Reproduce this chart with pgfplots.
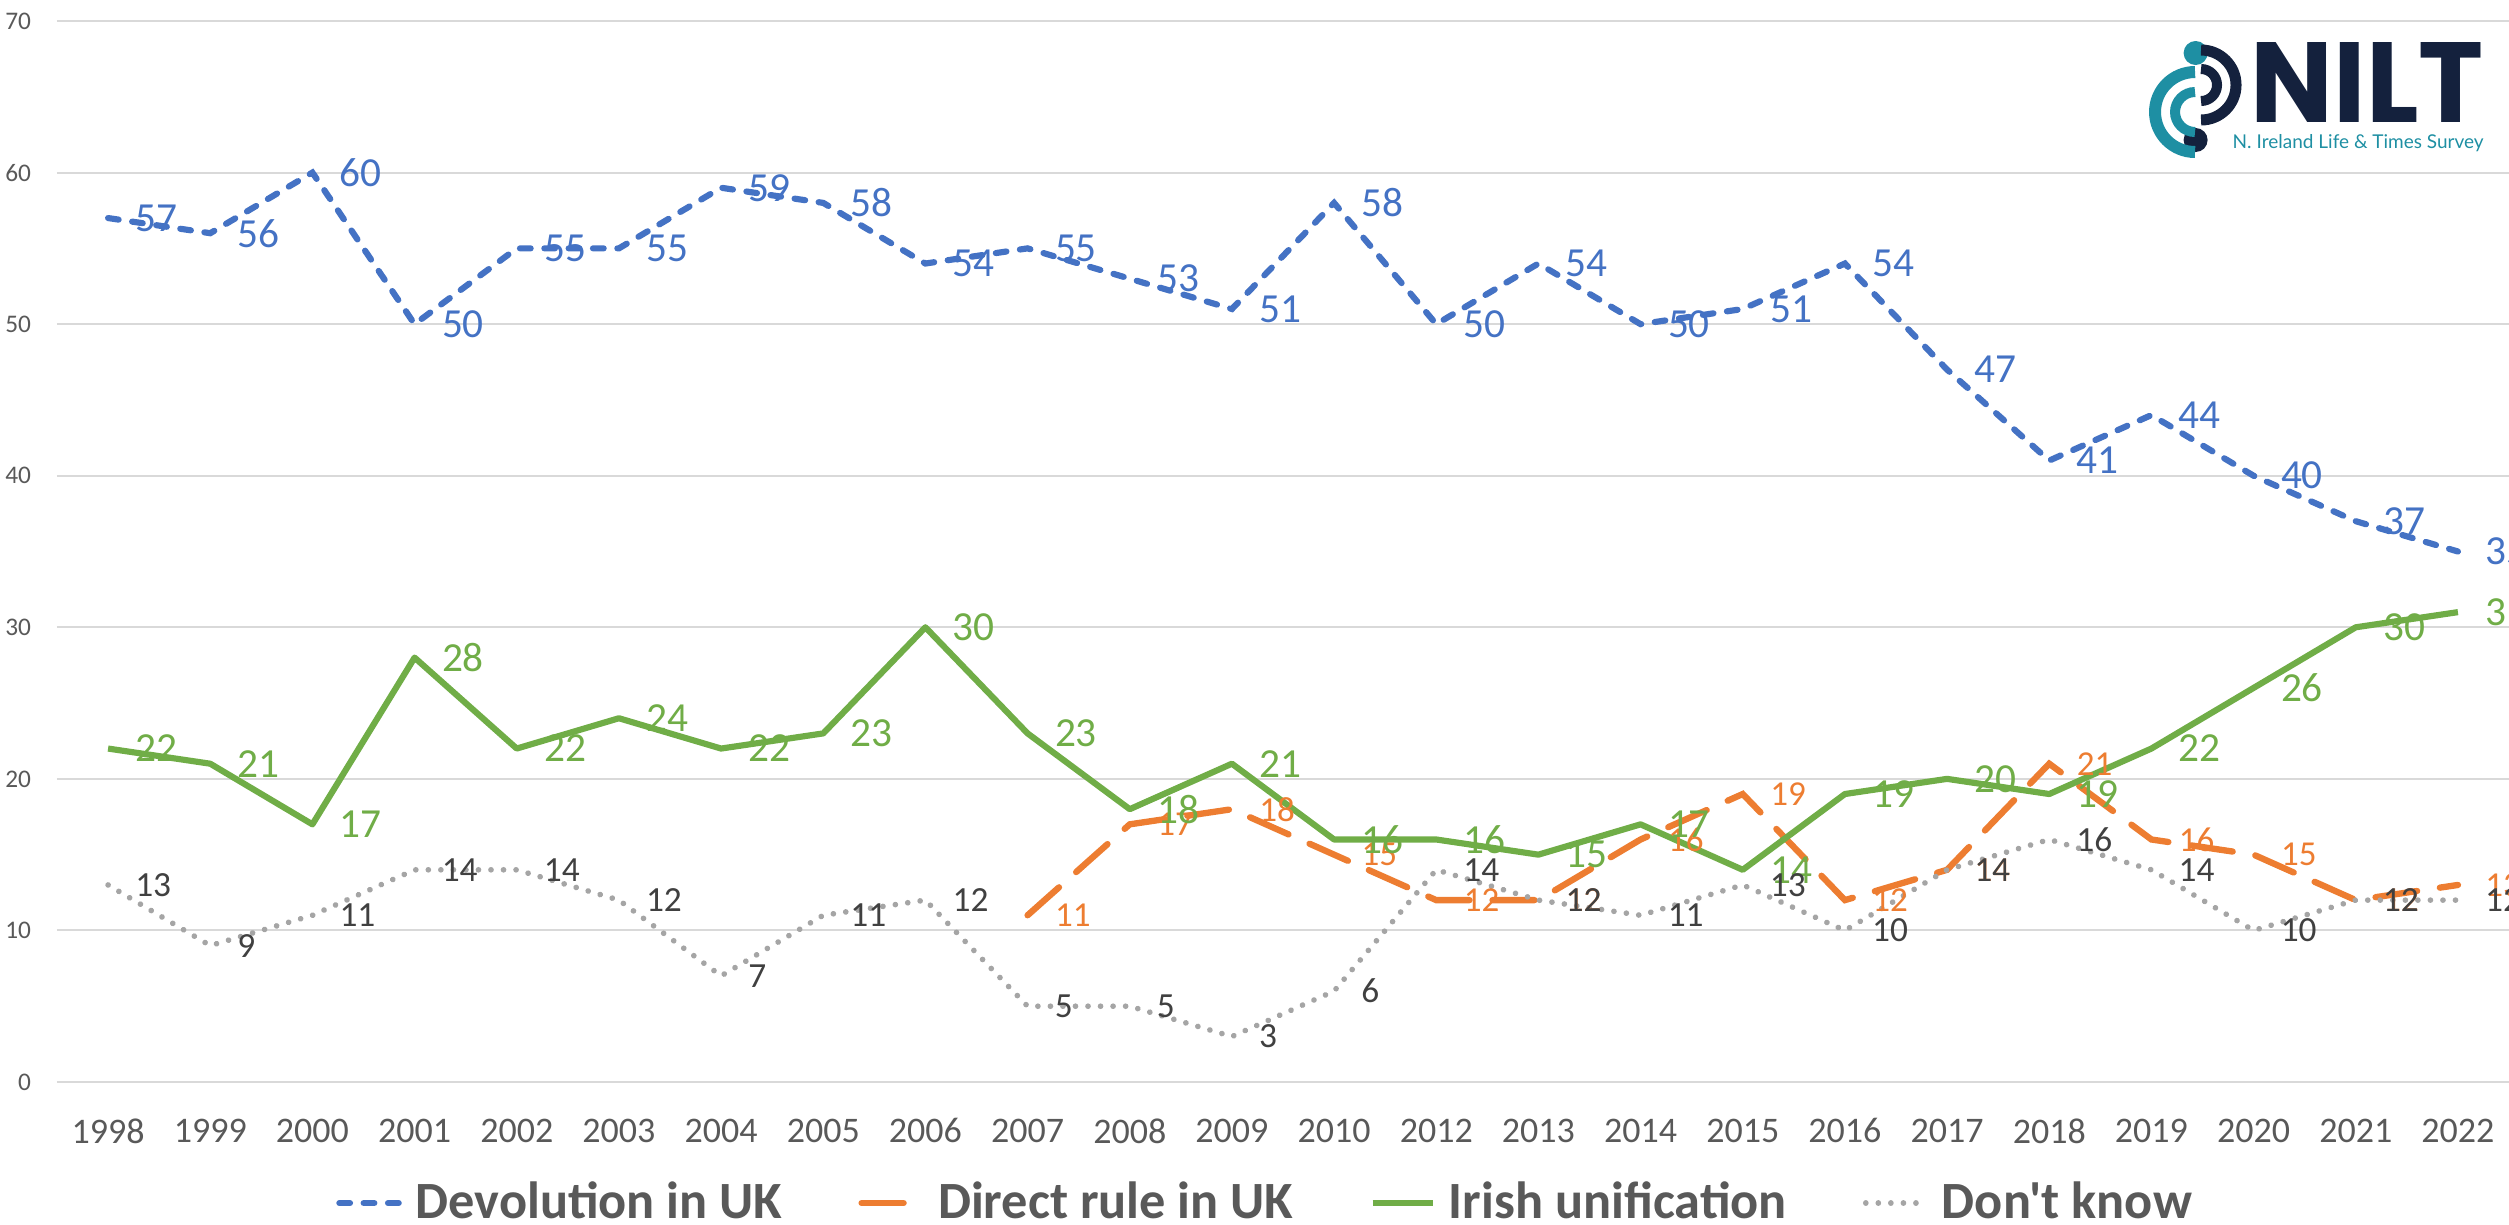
\documentclass[border=0pt]{standalone}
\usepackage{fontspec}
\setmainfont{Carlito}[Ligatures=TeXOff]
\newfontfamily\logofont{Poppins}
\newfontfamily\subfont{Lato}
\usepackage{pgfplots}
\pgfplotsset{compat=1.18}
\definecolor{cBlue}{HTML}{4472C4}
\definecolor{cOrange}{HTML}{ED7D31}
\definecolor{cGreen}{HTML}{70AD47}
\definecolor{cGray}{HTML}{A5A5A5}
\definecolor{cGrid}{HTML}{D9D9D9}
\definecolor{cTick}{HTML}{595959}
\definecolor{cDark}{HTML}{404040}
\definecolor{cNavy}{HTML}{14213D}
\definecolor{cTeal}{HTML}{1E8FA3}
\begin{document}
\begin{tikzpicture}
\useasboundingbox (0pt,0pt) rectangle (752.7pt,-367.2pt);
\clip (0pt,0pt) rectangle (752.7pt,-367.2pt);
\begin{axis}[
  at={(17.1pt,-6.3pt)}, anchor=north west,
  scale only axis, width=735.6pt, height=318.3pt,
  xmin=-0.5, xmax=23.5, ymin=0, ymax=70,
  xtick={0,...,23},
  xticklabels={1998,1999,2000,2001,2002,2003,2004,2005,2006,2007,2008,2009,2010,2012,2013,2014,2015,2016,2017,2018,2019,2020,2021,2022},
  ytick={0,10,...,70},
  ymajorgrids, grid style={color=cGrid, line width=0.6pt},
  axis line style={draw=none}, major tick length=0pt,
  tick label style={color=cTick},
  /pgf/number format/assume math mode=true,
  yticklabel style={font=\fontsize{7.6}{8}\selectfont, anchor=east, inner sep=0pt, xshift=-7.6pt},
  xticklabel style={font=\fontsize{10.8}{12}\selectfont, anchor=north, inner sep=0pt, yshift=-10.8pt},
  clip=false,
  legend columns=4,
  legend style={draw=none, fill=none, at={(0.4923,-0.1338)}, anchor=south, inner sep=0pt, outer sep=0pt,
    font=\fontsize{15.7}{18}\selectfont\bfseries, text=cTick, nodes={inner sep=0pt},
    /tikz/every odd column/.append style={column sep=4pt},
    /tikz/every even column/.append style={column sep=22.8pt}},
  legend image code/.code={\draw[#1] (0.9pt,0pt) -- (18.9pt,0pt);},
  nodes near coords,
  every node near coord/.append style={anchor=west, inner sep=0pt, xshift=7.3pt},
]
\addplot[cBlue, line width=1.85pt, line cap=round, dash pattern=on 3.2pt off 4.1pt,
  every node near coord/.append style={text=cBlue, font=\fontsize{12.4}{14}\selectfont}]
  coordinates {(0,57)(1,56)(2,60)(3,50)(4,55)(5,55)(6,59)(7,58)(8,54)(9,55)(10,53)(11,51)(12,58)(13,50)(14,54)(15,50)(16,51)(17,54)(18,47)(19,41)(20,44)(21,40)(22,37)(23,35)};
\addlegendentry{Devolution in UK}
\addplot[cOrange, line width=1.9pt, line cap=round, dash pattern=on 12.6pt off 6.9pt,
  every node near coord/.append style={text=cOrange, font=\fontsize{10.5}{12}\selectfont}]
  coordinates {(9,11)(10,17)(11,18)(12,15)(13,12)(14,12)(15,16)(16,19)(17,12)(18,14)(19,21)(20,16)(21,15)(22,12)(23,13)};
\addlegendentry{Direct rule in UK}
\addplot[cGreen, line width=1.85pt, line join=round,
  every node near coord/.append style={text=cGreen, font=\fontsize{12.4}{14}\selectfont}]
  coordinates {(0,22)(1,21)(2,17)(3,28)(4,22)(5,24)(6,22)(7,23)(8,30)(9,23)(10,18)(11,21)(12,16)(13,16)(14,15)(15,17)(16,14)(17,19)(18,20)(19,19)(20,22)(21,26)(22,30)(23,31)};
\addlegendentry{Irish unification}
\addplot[cGray, line width=1.7pt, line cap=round, dash pattern=on 0.01pt off 3.75pt,
  every node near coord/.append style={text=cDark, font=\fontsize{10.6}{12}\selectfont}]
  coordinates {(0,13)(1,9)(2,11)(3,14)(4,14)(5,12)(6,7)(7,11)(8,12)(9,5)(10,5)(11,3)(12,6)(13,14)(14,12)(15,11)(16,13)(17,10)(18,14)(19,16)(20,14)(21,10)(22,12)(23,12)};
\addlegendentry{Don't know}
\end{axis}
% logo
\begin{scope}[x=0.3pt,y=-0.3pt]
\fill[cTeal] (2195.6,53) circle[radius=3.6pt];
\fill[cNavy] (2195.6,140) circle[radius=3.6pt];
\draw[cNavy, line width=3.3pt] ([shift={(90:10.5pt)}]2201,85) arc[start angle=90, end angle=-90, radius=10.5pt];
\draw[cNavy, line width=3pt] ([shift={(90:4.8pt)}]2201,85) arc[start angle=90, end angle=-90, radius=4.8pt];
\draw[cTeal, line width=3.6pt] ([shift={(90:12pt)}]2195,112) arc[start angle=90, end angle=270, radius=12pt];
\draw[cTeal, line width=3pt] ([shift={(90:6pt)}]2195,112) arc[start angle=90, end angle=270, radius=6pt];
\node[anchor=south west, inner sep=0pt, text=cNavy] at (2250,123) {\resizebox{69.9pt}{24pt}{\logofont\bfseries NILT}};
\node[anchor=base west, inner sep=0pt, text=cTeal] at (2232,148) {\resizebox{75.3pt}{!}{\subfont N. Ireland Life \& Times Survey}};
\end{scope}
\end{tikzpicture}
\end{document}
